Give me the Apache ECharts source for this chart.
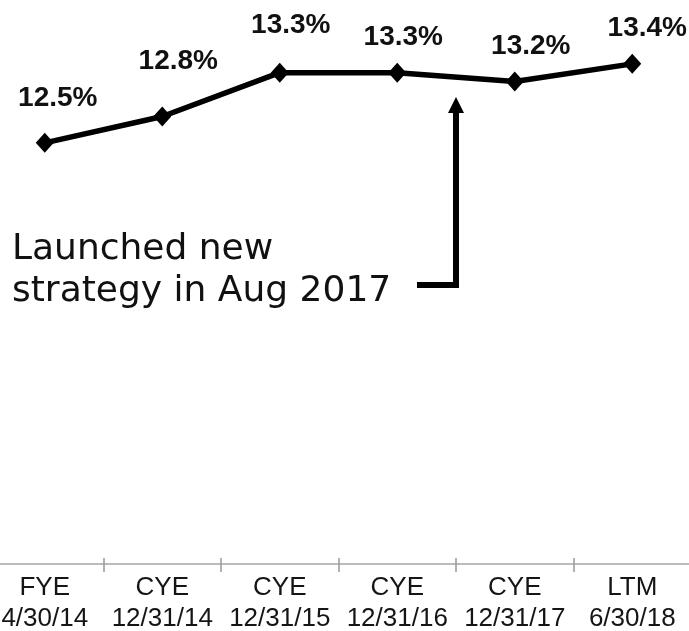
<!DOCTYPE html>
<html>
<head>
<meta charset="utf-8">
<script src="https://cdn.jsdelivr.net/npm/echarts@6/dist/echarts.min.js"></script>
<style>
  html, body { margin: 0; padding: 0; background: #fff; }
  #chart { width: 689px; height: 631px; }
</style>
</head>
<body>
<div id="chart"></div>
<script>
// period type / period end date, shown on two lines under the axis
var periodTypes = ['FYE', 'CYE', 'CYE', 'CYE', 'CYE', 'LTM'];
var periodDates = ['4/30/14', '12/31/14', '12/31/15', '12/31/16', '12/31/17', '6/30/18'];
var marginPct = [12.5, 12.8, 13.3, 13.3, 13.2, 13.4];

var categories = periodTypes.map(function (t, i) {
  return t + '\n' + periodDates[i];
});

// label nudges [dx, dy] so each value label sits like the original
var labelNudge = [[13, -21], [16, -31], [11, -23], [6, -11], [16, -11], [15, -12]];

var chart = echarts.init(document.getElementById('chart'));

var option = {
  animation: false,
  grid: { left: -14, right: -2, top: 20, bottom: 67, outerBoundsMode: 'none', containLabel: false },
  xAxis: [
    {
      type: 'category',
      data: categories,
      boundaryGap: true,
      axisLine: { show: true, lineStyle: { color: '#a6a6a6', width: 1.5 } },
      axisTick: { show: true, interval: 0, length: 8, lineStyle: { color: '#999', width: 1.5 } },
      axisLabel: {
        color: '#151515',
        fontFamily: "'Liberation Sans', Arial, sans-serif",
        fontSize: 26,
        lineHeight: 31,
        margin: 8,
        interval: 0
      }
    },
    {
      type: 'category',
      data: categories,
      position: 'bottom',
      offset: 0,
      axisLine: { show: false },
      axisTick: { show: true, interval: 0, inside: true, length: 6, lineStyle: { color: '#999', width: 1.5 } },
      axisLabel: { show: false }
    }
  ],
  yAxis: {
    type: 'value',
    min: 7.7,
    max: 13.9,
    show: false,
    splitLine: { show: false }
  },
  series: [
    {
      type: 'line',
      data: marginPct.map(function (v, i) {
        return { value: v, label: { offset: labelNudge[i] } };
      }),
      symbol: 'diamond',
      symbolSize: [18, 20],
      itemStyle: { color: '#000' },
      lineStyle: { color: '#000', width: 5.5 },
      label: {
        show: true,
        position: 'top',
        distance: 0,
        color: '#111',
        fontFamily: "'Liberation Sans', Arial, sans-serif",
        fontWeight: 'bold',
        fontSize: 28,
        formatter: function (p) { return p.value.toFixed(1) + '%'; }
      }
    }
  ]
};

chart.setOption(option);

// annotation: arrow placed between CYE 12/31/16 and CYE 12/31/17
var pA = chart.convertToPixel({ xAxisIndex: 0, yAxisIndex: 0 }, [3, 13.3]);
var pB = chart.convertToPixel({ xAxisIndex: 0, yAxisIndex: 0 }, [4, 13.2]);
var ax = Math.round((pA[0] + pB[0]) / 2);
var tipY = 97;
var baseY = 285;
var noteFont = "36px 'DejaVu Sans', Verdana, sans-serif";

chart.setOption({
  graphic: [
    {
      type: 'text',
      x: 12,
      y: 268,
      style: { text: 'Launched new', fill: '#111', font: noteFont, verticalAlign: 'bottom' }
    },
    {
      type: 'text',
      x: 12,
      y: 310,
      style: { text: 'strategy in Aug 2017', fill: '#111', font: noteFont, verticalAlign: 'bottom' }
    },
    {
      type: 'polyline',
      shape: { points: [[417, baseY], [ax, baseY], [ax, tipY + 14]] },
      style: { stroke: '#000', lineWidth: 6, fill: null, lineJoin: 'miter' }
    },
    {
      type: 'polygon',
      shape: { points: [[ax, tipY], [ax - 8, tipY + 16], [ax + 8, tipY + 16]] },
      style: { fill: '#000' }
    }
  ]
});
</script>
</body>
</html>
